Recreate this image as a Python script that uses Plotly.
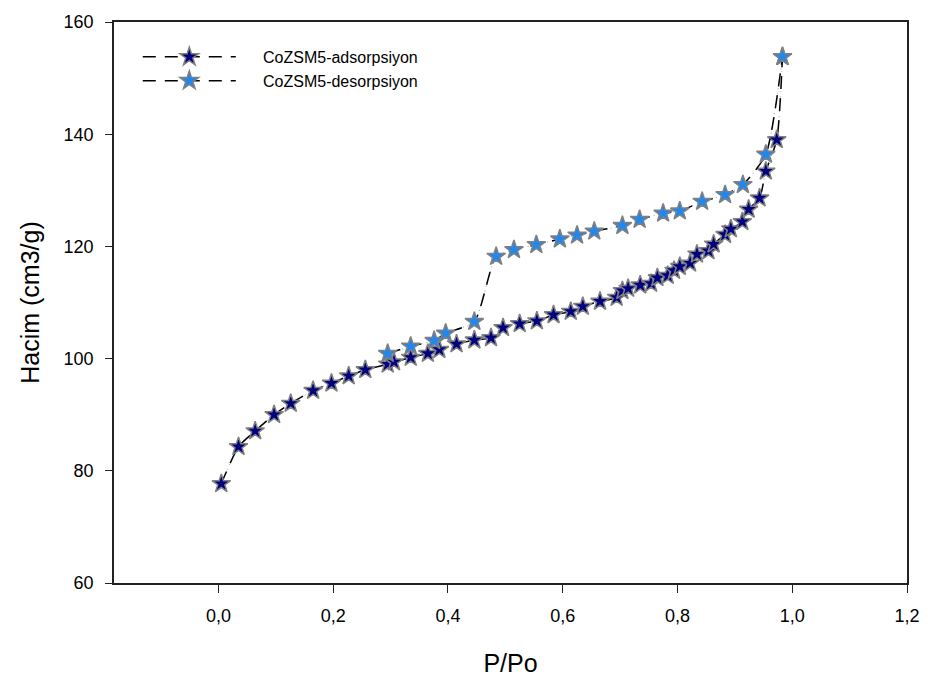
import plotly.graph_objects as go

# Adsorption branch (P/Po, volume cm3/g)
ads_p = [0.005, 0.035, 0.064, 0.097, 0.126, 0.165, 0.197, 0.227, 0.256, 0.295, 0.306,
         0.335, 0.365, 0.385, 0.415, 0.446, 0.475, 0.496, 0.525, 0.555, 0.584, 0.614,
         0.635, 0.665, 0.694, 0.704, 0.714, 0.735, 0.754, 0.765, 0.783, 0.794, 0.804,
         0.822, 0.834, 0.854, 0.863, 0.883, 0.893, 0.913, 0.924, 0.943, 0.954, 0.973, 0.983]
ads_v = [77.7, 84.3, 87.1, 90.0, 92.0, 94.3, 95.6, 96.9, 98.0, 99.0, 99.4,
         100.2, 100.9, 101.6, 102.6, 103.3, 103.7, 105.5, 106.2, 106.7, 107.8, 108.4,
         109.3, 110.2, 110.9, 112.1, 112.5, 113.1, 113.4, 114.4, 114.8, 115.7, 116.4,
         117.0, 118.6, 119.2, 120.4, 122.1, 123.1, 124.4, 126.6, 128.6, 133.4, 139.0, 153.8]

# Desorption branch
des_p = [0.295, 0.335, 0.376, 0.396, 0.446, 0.484, 0.515, 0.554, 0.595, 0.625, 0.655,
         0.704, 0.734, 0.775, 0.804, 0.843, 0.883, 0.914, 0.954, 0.983]
des_v = [100.9, 102.2, 103.2, 104.5, 106.6, 118.2, 119.4, 120.3, 121.3, 122.0, 122.7,
         123.7, 124.8, 125.9, 126.3, 128.0, 129.2, 131.0, 136.4, 153.8]

x_ticks = [0.0, 0.2, 0.4, 0.6, 0.8, 1.0, 1.2]
y_ticks = [60, 80, 100, 120, 140, 160]

FONT = "Liberation Sans, Arial, sans-serif"
DASH = "13px,9px"
PAD = "\u00a0" * 5

fig = go.Figure()
series = [
    (ads_p, ads_v, "CoZSM5-adsorpsiyon", "#000080"),
    (des_p, des_v, "CoZSM5-desorpsiyon", "#1E88F0"),
]
# faint dotted underlay (the small blue dots between dashes)
for xs, ys, name, col in series:
    fig.add_trace(go.Scatter(
        x=xs, y=ys, mode="lines", showlegend=False, hoverinfo="skip",
        line=dict(color="#7FA6D6", width=1, dash="1px,4px", shape="spline", smoothing=0.6),
    ))
for xs, ys, name, col in series:
    fig.add_trace(go.Scatter(
        x=xs, y=ys, mode="lines+markers", name=PAD + name,
        line=dict(color="black", width=1.5, dash=DASH, shape="spline", smoothing=0.6),
        marker=dict(symbol="star", size=14, color=col,
                    line=dict(color="#808080", width=1.5)),
    ))

fig.update_layout(
    width=932, height=686,
    margin=dict(l=114, r=21, t=15, b=103),
    plot_bgcolor="white", paper_bgcolor="white",
    separators=",.",
    font=dict(family=FONT, size=17, color="black"),
    showlegend=True,
    legend=dict(x=0.030, y=0.968, xanchor="left", yanchor="top",
                bgcolor="rgba(0,0,0,0)", font=dict(size=16, family=FONT),
                itemwidth=93, tracegroupgap=0),
)
fig.update_xaxes(
    range=[-0.182, 1.2], tickvals=x_ticks, tickformat=".1f",
    showgrid=False, zeroline=False,
    showline=True, linecolor="#222", linewidth=1.5, mirror=True,
    ticks="outside", ticklen=8, tickwidth=1.2, tickcolor="#222",
    ticklabelstandoff=8,
    tickfont=dict(size=18, family=FONT),
    title=dict(text="P/Po", font=dict(size=25, family=FONT), standoff=29),
)
fig.update_yaxes(
    range=[60, 160], tickvals=y_ticks,
    showgrid=False, zeroline=False,
    showline=True, linecolor="#222", linewidth=1.5, mirror=True,
    ticks="outside", ticklen=7, tickwidth=1.2, tickcolor="#222",
    ticklabelstandoff=8,
    tickfont=dict(size=18, family=FONT),
    title=dict(text="Hacim (cm3/g)", font=dict(size=25, family=FONT), standoff=17),
)

fig.write_html("out.html")
